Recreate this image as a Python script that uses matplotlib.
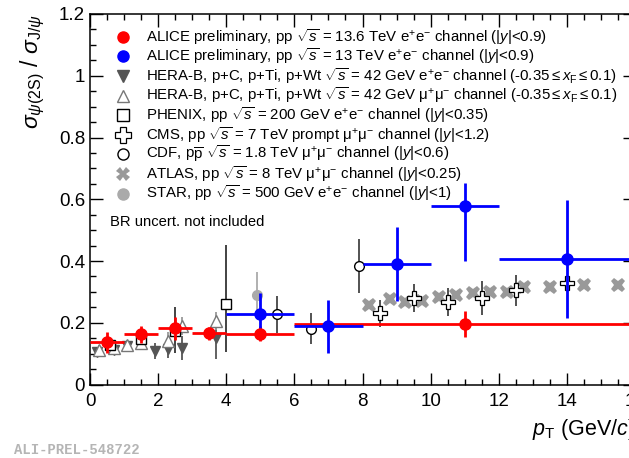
import matplotlib
matplotlib.use("Agg")
import matplotlib.pyplot as plt

plt.rcParams['font.family'] = ['Liberation Sans', 'DejaVu Sans']
plt.rcParams['mathtext.fontset'] = 'custom'
plt.rcParams['mathtext.rm'] = 'Liberation Sans'
plt.rcParams['mathtext.it'] = 'Liberation Sans:italic'
plt.rcParams['mathtext.bf'] = 'Liberation Sans:bold'

# ALICE 13.6 TeV (red)
alice136_x = [0.5, 1.5, 2.5, 3.5, 5.0, 11.0]
alice136_xerr = [0.5, 0.5, 0.5, 0.5, 1.0, 5.0]
alice136_y = [0.137, 0.163, 0.182, 0.166, 0.165, 0.196]
alice136_yerr = [0.034, 0.027, 0.037, 0.021, 0.023, 0.043]

# ALICE 13 TeV (blue)
alice13_x = [5.0, 7.0, 9.0, 11.0, 14.0]
alice13_xerr = [1.0, 1.0, 1.0, 1.0, 2.0]
alice13_y = [0.229, 0.189, 0.390, 0.577, 0.406]
alice13_ylo = [0.052, 0.086, 0.120, 0.177, 0.190]
alice13_yhi = [0.067, 0.086, 0.120, 0.077, 0.190]

# HERA-B e+e- (filled down triangles)
herab_ee_x = [0.2, 0.7, 1.1, 1.9, 2.3, 2.7, 3.7]
herab_ee_y = [0.105, 0.112, 0.124, 0.108, 0.116, 0.118, 0.152]
herab_ee_err = [0.015, 0.015, 0.015, 0.025, 0.03, 0.04, 0.07]

# HERA-B mu+mu- (open triangles)
herab_mm_x = [0.25, 0.7, 1.1, 1.5, 2.3, 2.7, 3.7]
herab_mm_y = [0.112, 0.118, 0.128, 0.135, 0.140, 0.190, 0.205]
herab_mm_err = [0.015, 0.015, 0.015, 0.015, 0.03, 0.03, 0.03]

# PHENIX (open squares)
phenix_x = [0.6, 1.5, 2.5, 4.0]
phenix_y = [0.128, 0.147, 0.172, 0.262]
phenix_ylo = [0.02, 0.02, 0.07, 0.156]
phenix_yhi = [0.02, 0.02, 0.08, 0.19]

# CMS (open crosses)
cms_x = [8.5, 9.5, 10.5, 11.5, 12.5, 14.0]
cms_y = [0.230, 0.280, 0.266, 0.280, 0.305, 0.330]
cms_err = [0.045, 0.046, 0.045, 0.054, 0.050, 0.015]

# CDF (open circles)
cdf_x = [5.5, 6.5, 7.9]
cdf_y = [0.228, 0.180, 0.383]
cdf_err = [0.06, 0.05, 0.088]

# ATLAS (gray X)
atlas_x = [8.2, 8.8, 9.25, 9.75, 10.25, 10.75, 11.25, 11.75, 12.25, 12.75, 13.5, 14.5, 15.5]
atlas_y = [0.258, 0.277, 0.266, 0.272, 0.283, 0.290, 0.296, 0.300, 0.300, 0.316, 0.316, 0.323, 0.323]

# STAR (gray circles)
star_x = [4.9]
star_y = [0.290]
star_err = [0.075]

legend_labels = [
    r"ALICE preliminary, pp $\sqrt{s}$ = 13.6 TeV e$^{+}$e$^{-}$ channel (|$y$|<0.9)",
    r"ALICE preliminary, pp $\sqrt{s}$ = 13 TeV e$^{+}$e$^{-}$ channel (|$y$|<0.9)",
    r"HERA-B, p+C, p+Ti, p+Wt $\sqrt{s}$ = 42 GeV e$^{+}$e$^{-}$ channel (-0.35$\leq$$x_{\mathrm{F}}$$\leq$0.1)",
    r"HERA-B, p+C, p+Ti, p+Wt $\sqrt{s}$ = 42 GeV μ$^{+}$μ$^{-}$ channel (-0.35$\leq$$x_{\mathrm{F}}$$\leq$0.1)",
    r"PHENIX, pp $\sqrt{s}$ = 200 GeV e$^{+}$e$^{-}$ channel (|$y$|<0.35)",
    r"CMS, pp $\sqrt{s}$ = 7 TeV prompt μ$^{+}$μ$^{-}$ channel (|$y$|<1.2)",
    r"CDF, p$\overline{\mathrm{p}}$ $\sqrt{s}$ = 1.8 TeV μ$^{+}$μ$^{-}$ channel (|$y$|<0.6)",
    r"ATLAS, pp $\sqrt{s}$ = 8 TeV μ$^{+}$μ$^{-}$ channel (|$y$|<0.25)",
    r"STAR, pp $\sqrt{s}$ = 500 GeV e$^{+}$e$^{-}$ channel (|$y$|<1)",
]

W, H = 629, 458
fig = plt.figure(figsize=(W / 100, H / 100), dpi=100)
ax = fig.add_axes([90 / W, (H - 384.5) / H, 545 / W, 370.5 / H])

gray = '#999999'
dgray = '#555555'

# error bars
ax.errorbar(herab_ee_x, herab_ee_y, yerr=herab_ee_err, fmt='v', color=dgray, ms=7,
            elinewidth=1.3, capsize=0, zorder=3)
ax.errorbar(herab_mm_x, herab_mm_y, yerr=herab_mm_err, fmt='^', color=gray, mfc='white',
            mec='#777777', ms=8, elinewidth=1.3, capsize=0, zorder=3)
ax.errorbar(star_x, star_y, yerr=star_err, fmt='o', color='#aaaaaa', ms=7,
            elinewidth=1.3, capsize=0, zorder=2)
ax.errorbar(phenix_x, phenix_y, yerr=[phenix_ylo, phenix_yhi], fmt='s', color='#222222',
            mfc='white', mec='black', ms=7, elinewidth=1.2, capsize=0, zorder=3)
ax.errorbar(cdf_x, cdf_y, yerr=cdf_err, fmt='o', color='#444444', mfc='white', mec='black',
            ms=7, elinewidth=1.3, capsize=0, zorder=3)
ax.plot(atlas_x, atlas_y, 'X', color=gray, ms=10.5, mew=0, ls='none', zorder=3)
ax.errorbar(cms_x, cms_y, yerr=cms_err, fmt='P', color='#333333', mfc='white', mec='black',
            ms=10, mew=0.9, elinewidth=1.2, capsize=0, zorder=4)
ax.errorbar(alice136_x, alice136_y, xerr=alice136_xerr, yerr=alice136_yerr, fmt='o',
            color='red', ms=8, elinewidth=2, capsize=0, zorder=5)
ax.errorbar(alice13_x, alice13_y, xerr=alice13_xerr, yerr=[alice13_ylo, alice13_yhi], fmt='o',
            color='blue', ms=8, elinewidth=2, capsize=0, zorder=5)

ax.set_xlim(0, 16)
ax.set_ylim(0, 1.2)
ax.set_xticks([0, 2, 4, 6, 8, 10, 12, 14, 16])
ax.set_yticks([0, 0.2, 0.4, 0.6, 0.8, 1.0, 1.2])
ax.set_yticklabels(['0', '0.2', '0.4', '0.6', '0.8', '1', '1.2'])
ax.set_xticks([x * 0.5 for x in range(33)], minor=True)
ax.set_yticks([y * 0.05 for y in range(25)], minor=True)
ax.tick_params(which='both', direction='in', top=True, right=True, labelsize=13.5, width=1)
ax.tick_params(which='major', length=9)
ax.tick_params(which='minor', length=4.5)
ax.tick_params(axis='x', pad=6)
for s in ax.spines.values():
    s.set_linewidth(1.1)

ax.set_ylabel(r"$\sigma_{\psi(\mathrm{2S})}$ / $\sigma_{\mathrm{J}/\psi}$", fontsize=16.5)
ax.yaxis.set_label_coords(-0.105, 1.0)
ax.yaxis.label.set_ha('right')
ax.yaxis.label.set_va('center')
ax.set_xlabel(r"$p_{\mathrm{T}}$ (GeV/$c$)", fontsize=15.5)
ax.xaxis.set_label_coords(1.0, -0.088)
ax.xaxis.label.set_ha('right')

# legend drawn by hand, ROOT style
styles = [
    dict(marker='o', color='red', ms=8),
    dict(marker='o', color='blue', ms=8),
    dict(marker='v', color=dgray, ms=8),
    dict(marker='^', mfc='white', mec='#777777', ms=9),
    dict(marker='s', mfc='white', mec='black', ms=8),
    dict(marker='P', mfc='white', mec='black', ms=11, mew=0.9),
    dict(marker='o', mfc='white', mec='black', ms=8),
    dict(marker='X', color=gray, ms=10, mew=0),
    dict(marker='o', color='#aaaaaa', ms=8),
]
for i, (lab, st) in enumerate(zip(legend_labels, styles)):
    yp = 1 - (36.7 + 19.6 * i) / H
    fig.lines.append(plt.Line2D([122.5 / W], [yp], ls='none', transform=fig.transFigure, **st))
    fig.text(146 / W, yp, lab, fontsize=10.8, va='center', ha='left')

fig.text(110 / W, 1 - 222 / H, "BR uncert. not included", fontsize=10.6, va='center')
fig.text(14 / W, 1 / H, "ALI-PREL-548722", fontsize=10, family='Liberation Mono',
         weight='bold', color='#b5b5b5', va='bottom')

fig.savefig("out.png", dpi=100)
